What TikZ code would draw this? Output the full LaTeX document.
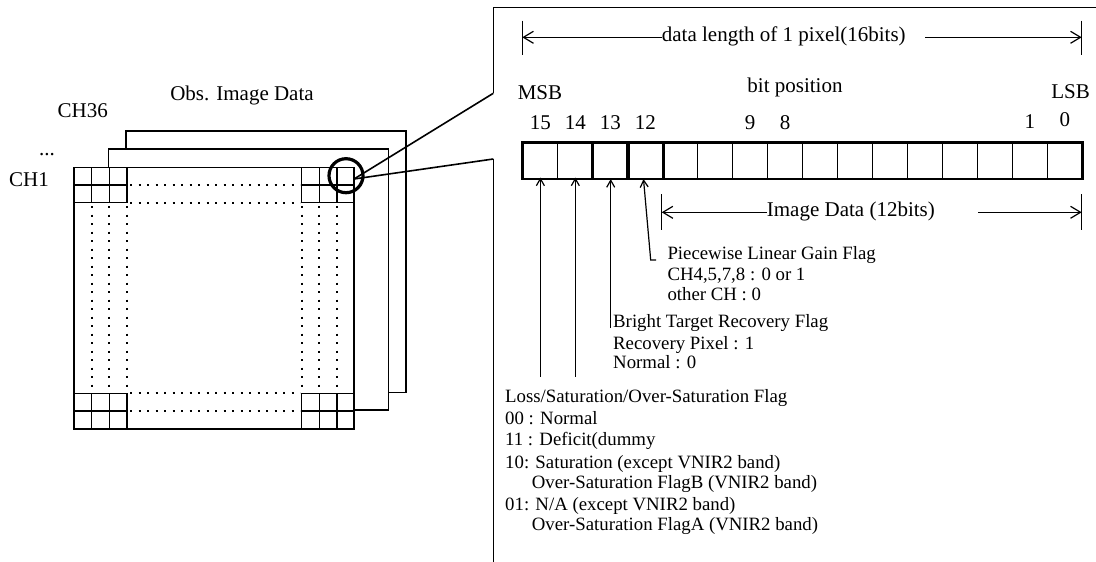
\documentclass[tikz,border=0pt]{standalone}
\usepackage{fontspec}
\setmainfont{Liberation Serif}
\usetikzlibrary{arrows.meta}
\begin{document}
\begin{tikzpicture}[x=1pt,y=-1pt,
  solid line/.style={line width=1.2pt},
  thickline/.style={line width=2.8pt},
  dotline/.style={line width=2.3pt, dash pattern=on 2.3pt off 6.2pt},
  big/.style={font=\fontsize{21}{24}\selectfont, inner sep=0pt},
  small/.style={font=\fontsize{18.8}{21}\selectfont, inner sep=0pt},
  lbarb/.style={line width=1.2pt, {Straight Barb[length=10pt,width=12pt]}-},
  rbarb/.style={line width=1.2pt, -{Straight Barb[length=10pt,width=12pt]}},
  uparrow/.style={line width=1.2pt, -{Straight Barb[length=7pt,width=8pt]}},
  cell/.style={draw, line width=1.2pt, minimum width=34.96pt, minimum height=35pt, inner sep=0pt, anchor=north west},
]
\useasboundingbox (0,0) rectangle (1096,562);

% ---------- left: image planes ----------
\draw[solid line, fill=white] (126,131) rectangle (406,392.3);
\draw[solid line, fill=white] (108.7,149) rectangle (388.7,410);
\draw[solid line, fill=white] (74,167.3) rectangle (354,429);
% corner grids
\foreach \xa/\xb in {74/127, 301.7/354}{
  \foreach \ya/\yb in {167.3/202.7, 393.3/429}{
    \draw[solid line] (\xa,\ya) rectangle (\xb,\yb);
    \draw[solid line] (\xa+17.67,\ya) -- (\xa+17.67,\yb);
    \draw[solid line] (\xa+35.33,\ya) -- (\xa+35.33,\yb);
    \draw[solid line] (\xa,\ya+17.7) -- (\xb,\ya+17.7);
  }
}
% dotted lines
\foreach \yy in {185,202.7,393.3,411}{
  \draw[dotline] (130,\yy) -- (300,\yy);
}
\foreach \xx in {91.7,109.3,127,301.7,319.3,336.7}{
  \draw[dotline] (\xx,206) -- (\xx,391);
}

\node[big, anchor=base] (obs) at (242,100.7) {Obs. Image Data};
\node[big, anchor=base] (ch36) at (82.7,117.7) {CH36};
\node[big, anchor=base] (dots) at (47,155) {...};
\node[big, anchor=base] (ch1) at (29,186.7) {CH1};

% zoom circle and connectors
\node[circle, draw, line width=3.2pt, minimum size=34pt, inner sep=0pt] (zoomc) at (346,175.7) {};
\coordinate (pix) at (354,179);
\coordinate (frameA) at (493.3,93.3);
\coordinate (frameB) at (493.3,159);
\coordinate (frameTL) at (493.3,7.3);
\coordinate (frameTR) at (1096,7.3);
\coordinate (frameBL) at (493.3,562);
\draw[line width=1.6pt] (pix) -- (frameA);
\draw[line width=1.6pt] (pix) -- (frameB);
\draw[line width=1.4pt] (frameA) -- (frameTL) -- (frameTR);
\draw[line width=1.4pt] (frameB) -- (frameBL);

% ---------- right: bit layout ----------
% dimension: data length
\coordinate (dl1) at (522.3,37.3);
\coordinate (dl2) at (1081.7,37.3);
\draw[solid line] (522.3,20.7) -- (522.3,55);
\draw[solid line] (1081.7,20.7) -- (1081.7,55);
\node[big, anchor=base west] (dlen) at (661.7,41) {data length of 1 pixel(16bits)};
\draw[lbarb] (dl1) -- (dl1 -| dlen.west);
\draw[rbarb] (925,37.3) -- (dl2);

\node[big, anchor=base] (msb) at (540,99) {MSB};
\node[big, anchor=base] (bitpos) at (795,92.7) {bit position};
\node[big, anchor=base] (lsb) at (1070.5,98.3) {LSB};

% cells
\foreach \i in {0,...,15}{
  \pgfmathtruncatemacro{\b}{15-\i}
  \node[cell] (c\b) at ({522.3+34.96*\i},142.7) {};
}
\draw[thickline] (c15.north west) rectangle (c0.south east);
\draw[thickline] (c13.north west) rectangle (c13.south east);
\draw[thickline] (c12.north west) rectangle (c12.south east);

% bit numbers
\foreach \b/\yy in {15/129,14/129,13/129,12/129,9/129,8/129,1/128.3,0/126}{
  \node[big, anchor=base] (n\b) at (c\b.north |- 0,\yy) {\b};
}

% dimension: image data
\coordinate (id1) at (661.7,212.3);
\coordinate (id2) at (1081.7,212.3);
\draw[solid line] (661.7,194) -- (661.7,230);
\draw[solid line] (1081.7,194) -- (1081.7,230);
\node[big, anchor=base west] (imgdata) at (766.7,216.7) {Image Data (12bits)};
\draw[lbarb] (id1) -- (id1 -| imgdata.west);
\draw[rbarb] (978.3,212.3) -- (id2);

% flag arrows
\coordinate (a15) at (c15.south |- 0,376.7);
\coordinate (a14) at (c14.south |- 0,376.7);
\coordinate (a13) at (610.7,328);
\coordinate (a12b) at (656,260);
\coordinate (a12a) at (650.7,260);
\draw[uparrow] (a15) -- ([yshift=1.4pt]c15.south);
\draw[uparrow] (a14) -- ([yshift=1.4pt]c14.south);
\draw[uparrow] (a13) -- (610.7,179.1);
\draw[uparrow] (a12b) -- (a12a) -- (643.5,179.1);

% flag texts
\node[small, anchor=base west] (pw1) at (667.3,259.3) {Piecewise Linear Gain Flag};
\node[small, anchor=base west] (pw2) at (667.3,280) {CH4,5,7,8 : 0 or 1};
\node[small, anchor=base west] (pw3) at (667.3,300) {other CH : 0};

\node[small, anchor=base west] (bt1) at (613,327.7) {Bright Target Recovery Flag};
\node[small, anchor=base west] (bt2) at (613,349.5) {Recovery Pixel : 1};
\node[small, anchor=base west] (bt3) at (613,368.3) {Normal : 0};

\node[small, anchor=base west] (ls1) at (505,402.3) {Loss/Saturation/Over-Saturation Flag};
\node[small, anchor=base west] (ls2) at (505,424) {00 : Normal};
\node[small, anchor=base west] (ls3) at (505,445.7) {11 : Deficit(dummy};
\node[small, anchor=base west] (ls4) at (505,468.3) {10: Saturation (except VNIR2 band)};
\node[small, anchor=base west] (ls5) at (531.7,488.3) {Over-Saturation FlagB (VNIR2 band)};
\node[small, anchor=base west] (ls6) at (505,510.7) {01: N/A (except VNIR2 band)};
\node[small, anchor=base west] (ls7) at (531.7,530) {Over-Saturation FlagA (VNIR2 band)};
\end{tikzpicture}
\end{document}
